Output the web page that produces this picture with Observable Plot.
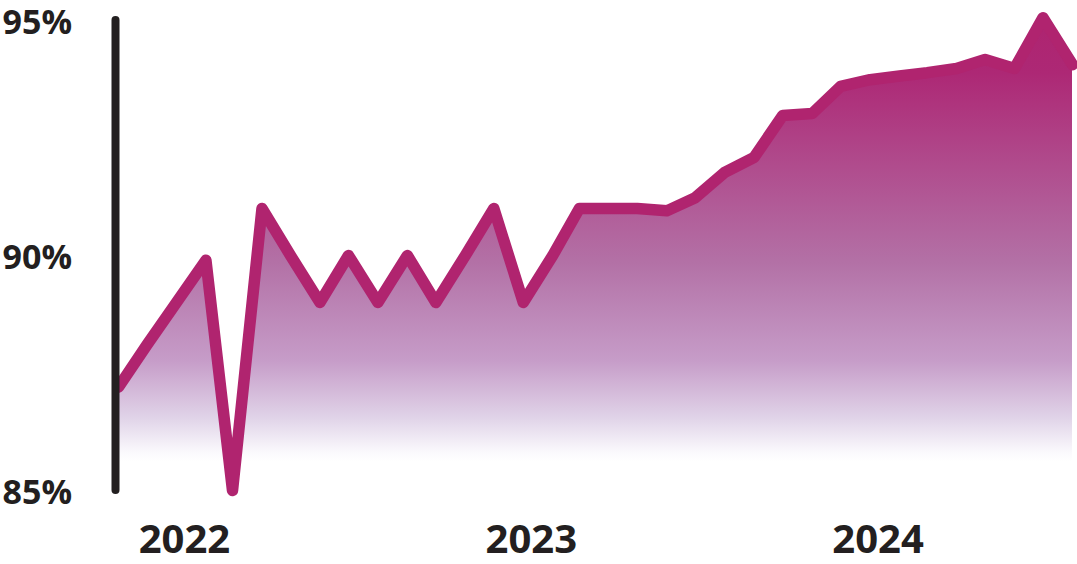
<!DOCTYPE html>
<html>
<head>
<meta charset="utf-8">
<script src="https://cdn.jsdelivr.net/npm/d3@7"></script>
<script src="https://cdn.jsdelivr.net/npm/@observablehq/plot@0.6"></script>
<style>
  html, body { margin: 0; padding: 0; background: #fff; }
  #chart svg { display: block; }
</style>
</head>
<body>
<div id="chart"></div>
<script>
const months = ["2021-11","2021-12","2022-01","2022-02","2022-03","2022-04","2022-05","2022-06","2022-07","2022-08","2022-09","2022-10",
  "2022-11","2022-12","2023-01","2023-02","2023-03","2023-04","2023-05","2023-06","2023-07","2023-08","2023-09","2023-10",
  "2023-11","2023-12","2024-01","2024-02","2024-03","2024-04","2024-05","2024-06","2024-07","2024-08"];
const values = [87.2, 88.1, 89.0, 89.9, 85.0, 91.0, 90.0, 89.0, 90.0, 89.0, 90.0, 89.0,
  90.0, 91.0, 89.0, 90.0, 91.0, 91.0, 91.0, 90.95, 91.23, 91.77, 92.09, 92.98,
  93.02, 93.6, 93.74, 93.82, 93.89, 93.98, 94.17, 93.98, 95.06, 94.06];
const yTicks = [85, 90, 95];
const yTickLabels = ["85%", "90%", "95%"];
const yearTicks = ["2022-01", "2023-01", "2024-01"];
const yearLabels = ["2022", "2023", "2024"];

const parse = d3.utcParse("%Y-%m");
const data = months.map((m, i) => ({date: parse(m), value: values[i]}));
const yearData = yearTicks.map((t, i) => ({date: parse(t), label: yearLabels[i]}));
const yLabelData = yTicks.map((v, i) => ({value: v, label: yTickLabels[i]}));

const INK = "#231F20";
const MAG = "#B0246F";
const FONT = "'Open Sans', 'DejaVu Sans', sans-serif";

const gradientDefs = (index, scales) => {
  const defs = d3.create("svg:defs");
  const g = defs.append("linearGradient")
    .attr("id", "areaGrad")
    .attr("gradientUnits", "userSpaceOnUse")
    .attr("x1", 0).attr("x2", 0)
    .attr("y1", scales.y(95)).attr("y2", scales.y(85.6));
  [[0, "#AE2470"], [0.12, "#AD2875"], [0.55, "#B371A6"], [0.77, "#C69CC8"], [0.9, "#E0D3E8"], [0.98, "#FBFAFD"], [1, "#FFFFFF"]]
    .forEach(([o, c]) => g.append("stop").attr("offset", o).attr("stop-color", c));
  return defs.node();
};

const chart = Plot.plot({
  width: 1077,
  height: 564,
  marginLeft: 118,
  marginRight: 5,
  marginTop: 20,
  marginBottom: 74,
  x: {type: "utc", domain: [data[0].date, data[data.length - 1].date], axis: null},
  y: {domain: [85, 95], axis: null},
  style: {fontFamily: FONT, background: "#fff", overflow: "visible"},
  marks: [
    gradientDefs,
    Plot.areaY(data, {x: "date", y1: 85, y2: "value", fill: "url(#areaGrad)"}),
    Plot.lineY(data, {x: "date", y: "value", stroke: MAG, strokeWidth: 11.5, strokeLinejoin: "round", strokeLinecap: "round"}),
    Plot.ruleX([data[0].date], {y1: 95, y2: 85, stroke: INK, strokeWidth: 8, strokeLinecap: "round", dx: -3}),
    Plot.text(yLabelData, {x: data[0].date, y: "value", text: "label", textAnchor: "start", dx: -116, dy: 3,
      fontSize: 34, fontWeight: "bold", fill: INK, lineAnchor: "middle"}),
    Plot.text(yearData, {x: "date", y: 85, text: "label", dx: 8, dy: 50,
      fontSize: 40, fontWeight: "bold", fill: INK, lineAnchor: "middle"})
  ]
});
document.getElementById("chart").appendChild(chart);
</script>
</body>
</html>
